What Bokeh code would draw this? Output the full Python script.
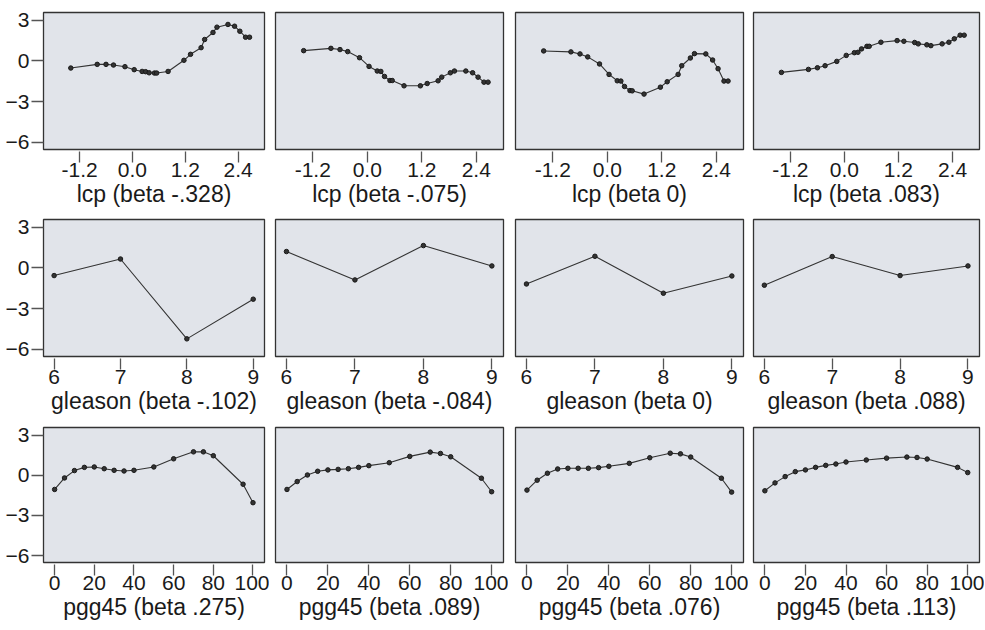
from bokeh.plotting import figure
from bokeh.layouts import column, row
from bokeh.models import Range1d, FixedTicker, PrintfTickFormatter
from bokeh.embed import file_html
from bokeh.resources import INLINE

# ---- data ----
lcp_x = [-1.40, -0.80, -0.60, -0.43, -0.17, 0.04, 0.22, 0.30, 0.38, 0.50, 0.55, 0.81,
         1.17, 1.32, 1.56, 1.64, 1.83, 1.92, 2.17, 2.32, 2.44, 2.57, 2.66]
lcp_y1 = [-0.52, -0.25, -0.25, -0.30, -0.42, -0.64, -0.77, -0.79, -0.87, -0.89, -0.89, -0.77,
          0.05, 0.49, 0.98, 1.58, 2.10, 2.49, 2.69, 2.56, 2.19, 1.75, 1.75]
lcp_y2 = [0.76, 0.93, 0.84, 0.69, 0.24, -0.40, -0.74, -0.77, -1.14, -1.44, -1.44, -1.83,
          -1.83, -1.66, -1.46, -1.19, -0.87, -0.74, -0.74, -0.87, -1.19, -1.56, -1.56]
lcp_y3 = [0.74, 0.67, 0.52, 0.30, -0.22, -0.99, -1.46, -1.48, -1.88, -2.18, -2.20, -2.44,
          -1.93, -1.53, -0.99, -0.35, 0.22, 0.54, 0.52, 0.07, -0.57, -1.48, -1.48]
lcp_y4 = [-0.84, -0.62, -0.50, -0.35, -0.03, 0.41, 0.61, 0.64, 0.89, 1.08, 1.08, 1.38,
          1.50, 1.45, 1.36, 1.26, 1.19, 1.13, 1.26, 1.38, 1.63, 1.90, 1.90]

gleason_x = [6, 7, 8, 9]
gleason_y1 = [-0.56, 0.66, -5.22, -2.30]
gleason_y2 = [1.21, -0.88, 1.65, 0.15]
gleason_y3 = [-1.18, 0.86, -1.86, -0.59]
gleason_y4 = [-1.27, 0.84, -0.56, 0.15]

pgg45_x = [0, 5, 10, 15, 20, 25, 30, 35, 40, 50, 60, 70, 75, 80, 95, 100]
pgg45_y1 = [-1.06, -0.20, 0.35, 0.59, 0.62, 0.49, 0.37, 0.32, 0.37, 0.62, 1.23, 1.75, 1.75, 1.46, -0.67, -2.05]
pgg45_y2 = [-1.06, -0.47, 0.02, 0.30, 0.40, 0.44, 0.49, 0.59, 0.72, 0.94, 1.41, 1.73, 1.63, 1.38, -0.22, -1.23]
pgg45_y3 = [-1.11, -0.37, 0.15, 0.47, 0.52, 0.52, 0.52, 0.57, 0.67, 0.89, 1.31, 1.65, 1.60, 1.36, -0.22, -1.26]
pgg45_y4 = [-1.16, -0.57, -0.10, 0.27, 0.40, 0.59, 0.74, 0.84, 0.99, 1.14, 1.28, 1.36, 1.33, 1.21, 0.59, 0.20]

lcp_labels = ["lcp (beta -.328)", "lcp (beta -.075)", "lcp (beta 0)", "lcp (beta .083)"]
gleason_labels = ["gleason (beta -.102)", "gleason (beta -.084)", "gleason (beta 0)", "gleason (beta .088)"]
pgg45_labels = ["pgg45 (beta .275)", "pgg45 (beta .089)", "pgg45 (beta .076)", "pgg45 (beta .113)"]

lcp_ticks = [-1.2, 0.0, 1.2, 2.4]
gleason_ticks = [6, 7, 8, 9]
pgg45_ticks = [0, 20, 40, 60, 80, 100]
y_ticks = [3, 0, -3, -6]

rows_spec = [
    (lcp_x, [lcp_y1, lcp_y2, lcp_y3, lcp_y4], lcp_labels, lcp_ticks, (-2.02, 3.0), "%.1f"),
    (gleason_x, [gleason_y1, gleason_y2, gleason_y3, gleason_y4], gleason_labels, gleason_ticks, (5.84, 9.17), "%d"),
    (pgg45_x, [pgg45_y1, pgg45_y2, pgg45_y3, pgg45_y4], pgg45_labels, pgg45_ticks, (-5.6, 105.8), "%d"),
]

# layout geometry: (border_left, frame_width, border_right) per column,
# (border_top, frame_height, border_bottom) per row
COLS = [(43, 221, 5), (6, 228, 5), (7, 228, 5), (5, 226, 5)]
ROWS = [(12, 137, 64), (6, 137, 65), (6, 135, 65)]

FONT = "Liberation Sans"
BG = "#e1e4ea"
INK = "#1a1a1a"
TICK = "#555555"

fig_rows = []
for r, (xs, ys_list, labels, xticks, xr, fmt) in enumerate(rows_spec):
    figs = []
    bt, fh, bb = ROWS[r]
    for c in range(4):
        bl, fw, br = COLS[c]
        p = figure(width=bl + fw + br, height=bt + fh + bb,
                   x_range=Range1d(*xr), y_range=Range1d(-6.52, 3.57),
                   output_backend="svg", toolbar_location=None,
                   y_axis_location="left" if c == 0 else None,
                   min_border_left=bl, min_border_right=br,
                   min_border_top=bt, min_border_bottom=bb)
        p.background_fill_color = BG
        p.border_fill_color = "white"
        p.outline_line_color = "#333333"
        p.outline_line_width = 1.3
        p.grid.visible = False

        xa = p.xaxis[0]
        xa.ticker = FixedTicker(ticks=xticks)
        xa.formatter = PrintfTickFormatter(format=fmt)
        xa.axis_line_color = None
        xa.major_tick_out = 13
        xa.major_tick_in = -2
        xa.minor_tick_line_color = None
        xa.major_tick_line_color = TICK
        xa.major_tick_line_width = 1.3
        xa.major_label_text_font = FONT
        xa.major_label_text_font_size = "21px"
        xa.major_label_text_color = INK
        xa.major_label_standoff = 0
        xa.axis_label = labels[c]
        xa.axis_label_text_font = FONT
        xa.axis_label_text_font_size = "23px"
        xa.axis_label_text_font_style = "normal"
        xa.axis_label_text_color = INK
        xa.axis_label_standoff = 1

        if c == 0:
            ya = p.yaxis[0]
            ya.ticker = FixedTicker(ticks=y_ticks)
            ya.axis_line_color = None
            ya.major_tick_out = 12
            ya.major_tick_in = 0
            ya.minor_tick_line_color = None
            ya.major_tick_line_color = TICK
            ya.major_tick_line_width = 1.3
            ya.major_label_text_font = FONT
            ya.major_label_text_font_size = "21px"
            ya.major_label_text_color = INK
            ya.major_label_standoff = 2

        p.line(xs, ys_list[c], line_color="#333333", line_width=1.1)
        p.scatter(xs, ys_list[c], size=4.5, marker="circle",
                  fill_color="#333333", line_color="#1a1a1a", line_width=1)
        figs.append(p)
    fig_rows.append(row(*figs, spacing=0))

layout = column(*fig_rows, spacing=0)

with open("out.html", "w") as f:
    f.write(file_html(layout, INLINE))
